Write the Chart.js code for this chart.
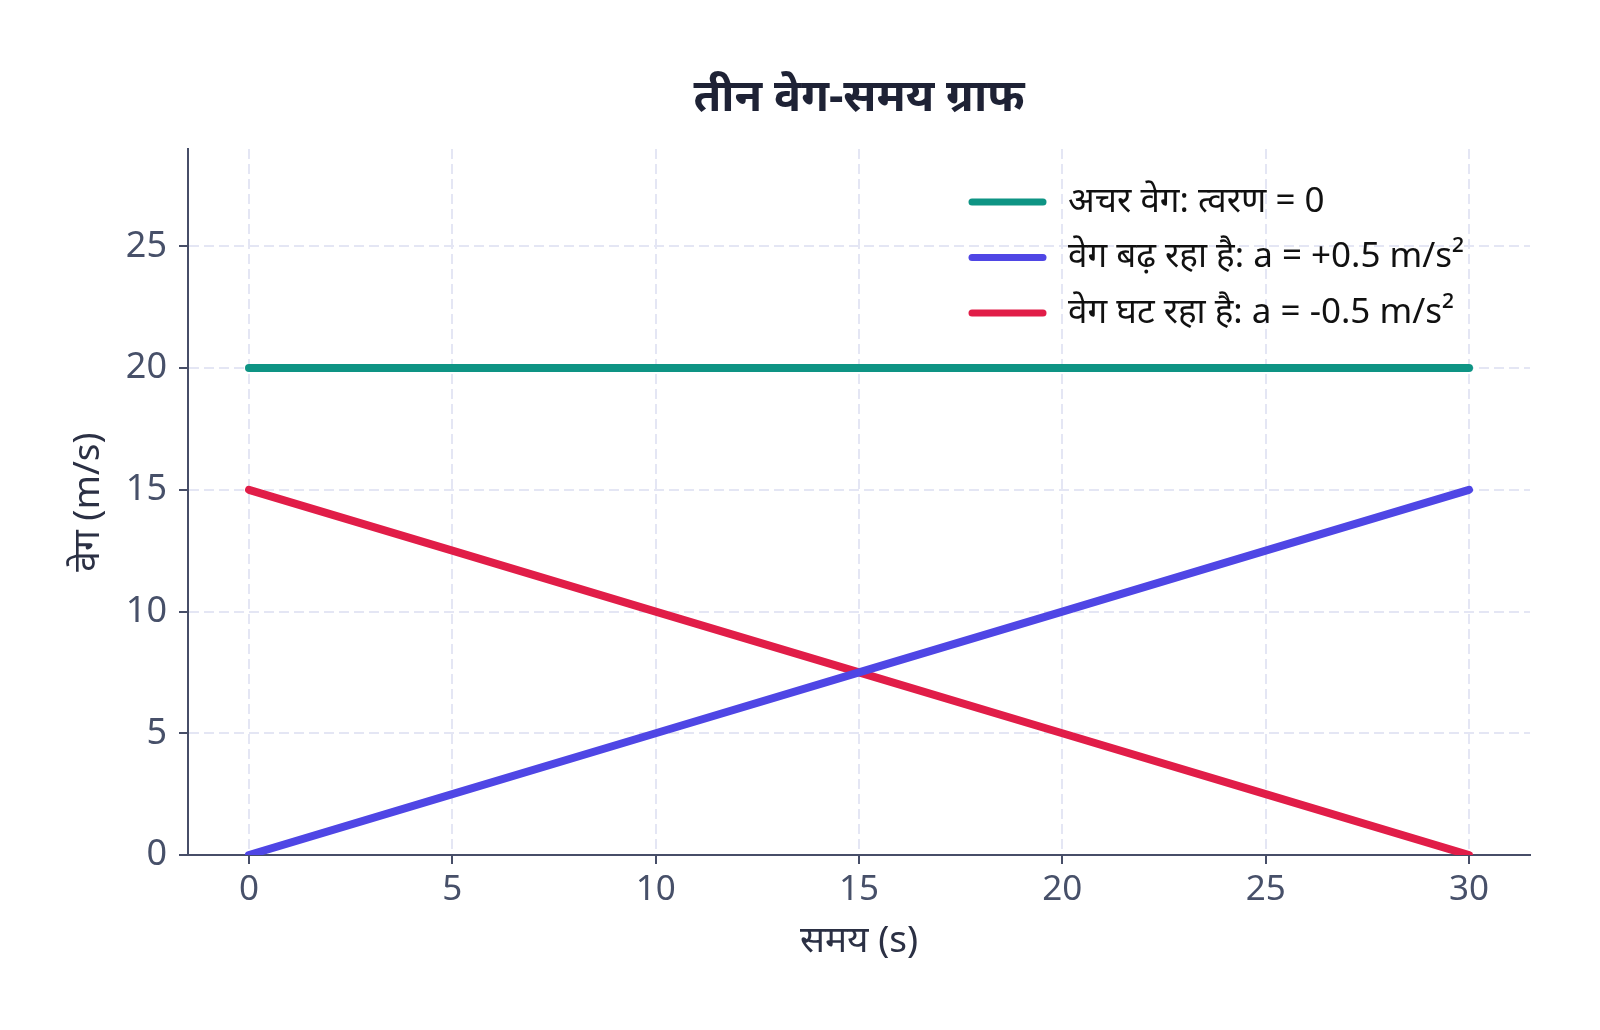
<!DOCTYPE html>
<html lang="hi">
<head>
<meta charset="utf-8">
<title>तीन वेग-समय ग्राफ</title>
<script src="https://cdn.jsdelivr.net/npm/chart.js@4.4.1/dist/chart.umd.min.js"></script>
<style>
  html, body { margin: 0; padding: 0; background: #ffffff; }
  #wrap { width: 1600px; height: 1030px; }
</style>
</head>
<body>
<div id="wrap"><canvas id="vtChart" width="1600" height="1030"></canvas></div>
<script>
const FONT_FAMILY = "'Noto Sans', 'Noto Sans Devanagari', 'Lato', sans-serif";

// समय (s)
const timeValues     = [0, 5, 10, 15, 20, 25, 30];
// वेग (m/s)
const constantVel    = [20, 20, 20, 20, 20, 20, 20];
const increasingVel  = [0, 2.5, 5, 7.5, 10, 12.5, 15];
const decreasingVel  = [15, 12.5, 10, 7.5, 5, 2.5, 0];

const seriesLabels = [
  "अचर वेग: त्वरण = 0",
  "वेग बढ़ रहा है: a = +0.5 m/s²",
  "वेग घट रहा है: a = -0.5 m/s²"
];
const seriesColors = ["#0e9484", "#4f46e5", "#e11d48"];

const xTickValues = [0, 5, 10, 15, 20, 25, 30];
const yTickValues = [0, 5, 10, 15, 20, 25];
const X_MIN = -1.5, X_MAX = 31.5;
const Y_MIN = 0,    Y_MAX = 29;

const AXIS_COLOR = "#474e68";
const GRID_COLOR = "#e4e6f4";

function toPoints(values) {
  return timeValues.map((t, i) => ({ x: t, y: values[i] }));
}

/* ── Legend inside plot, top-right ─────────────────── */
const innerLegend = {
  id: "innerLegend",
  afterDraw(chart) {
    const { ctx, chartArea } = chart;
    const lineStart = chartArea.right - 558;
    const lineEnd   = lineStart + 71;
    const textX     = lineStart + 96;
    const firstY    = chartArea.top + 53;
    const rowGap    = 55.5;

    ctx.save();
    ctx.font = `35px ${FONT_FAMILY}`;
    ctx.textBaseline = "middle";
    ctx.textAlign = "left";
    chart.data.datasets.forEach((ds, i) => {
      const y = firstY + i * rowGap;
      ctx.beginPath();
      ctx.lineCap = "round";
      ctx.lineWidth = 7;
      ctx.strokeStyle = ds.borderColor;
      ctx.moveTo(lineStart, y);
      ctx.lineTo(lineEnd, y);
      ctx.stroke();
      ctx.fillStyle = "#111111";
      ctx.fillText(ds.label, textX, y);
    });
    ctx.restore();
  }
};

function buildChart() {
  const ctx = document.getElementById("vtChart").getContext("2d");
  const series = [constantVel, increasingVel, decreasingVel];

  return new Chart(ctx, {
    type: "line",
    data: {
      datasets: series.map((vals, i) => ({
        label: seriesLabels[i],
        data: toPoints(vals),
        borderColor: seriesColors[i],
        backgroundColor: seriesColors[i],
        borderWidth: 8,
        borderCapStyle: "round",
        borderJoinStyle: "round",
        pointRadius: 0,
        pointHoverRadius: 0,
        tension: 0,
        fill: false
      }))
    },
    options: {
      responsive: false,
      devicePixelRatio: 1,
      animation: false,
      events: [],
      layout: { padding: { left: 0, right: 70, top: 0, bottom: 0 } },
      plugins: {
        legend: { display: false },
        tooltip: { enabled: false },
        title: {
          display: true,
          fullSize: false,
          text: "तीन वेग-समय ग्राफ",
          color: "#1e2235",
          font: { family: FONT_FAMILY, size: 45, weight: "bold", lineHeight: 1.2 },
          padding: { top: 71, bottom: 24 }
        }
      },
      scales: {
        x: {
          type: "linear",
          min: X_MIN,
          max: X_MAX,
          afterBuildTicks: s => { s.ticks = xTickValues.map(v => ({ value: v })); },
          afterFit: s => { s.height = 175; },
          grid: {
            color: GRID_COLOR,
            lineWidth: 2,
            tickColor: AXIS_COLOR,
            tickLength: 9,
            tickWidth: 2
          },
          border: { display: true, color: AXIS_COLOR, width: 2, dash: [10, 5] },
          ticks: {
            color: "#475069",
            padding: 5,
            maxRotation: 0,
            font: { family: FONT_FAMILY, size: 35 }
          },
          title: {
            display: true,
            text: "समय (s)",
            color: "#2b3044",
            font: { family: FONT_FAMILY, size: 37, lineHeight: 1.2 },
            padding: { top: 0, bottom: 66 }
          }
        },
        y: {
          type: "linear",
          min: Y_MIN,
          max: Y_MAX,
          afterBuildTicks: s => { s.ticks = yTickValues.map(v => ({ value: v })); },
          afterFit: s => { s.width = 188; },
          grid: {
            color: GRID_COLOR,
            lineWidth: 2,
            tickColor: AXIS_COLOR,
            tickLength: 9,
            tickWidth: 2
          },
          border: { display: true, color: AXIS_COLOR, width: 2, dash: [10, 5] },
          ticks: {
            color: "#475069",
            padding: 12,
            font: { family: FONT_FAMILY, size: 36 }
          },
          title: {
            display: true,
            text: "वेग (m/s)",
            color: "#2b3044",
            font: { family: FONT_FAMILY, size: 37, lineHeight: 1.2 },
            padding: { top: 66, bottom: 0 }
          }
        }
      }
    },
    plugins: [innerLegend]
  });
}

document.addEventListener("DOMContentLoaded", buildChart);
</script>
</body>
</html>
